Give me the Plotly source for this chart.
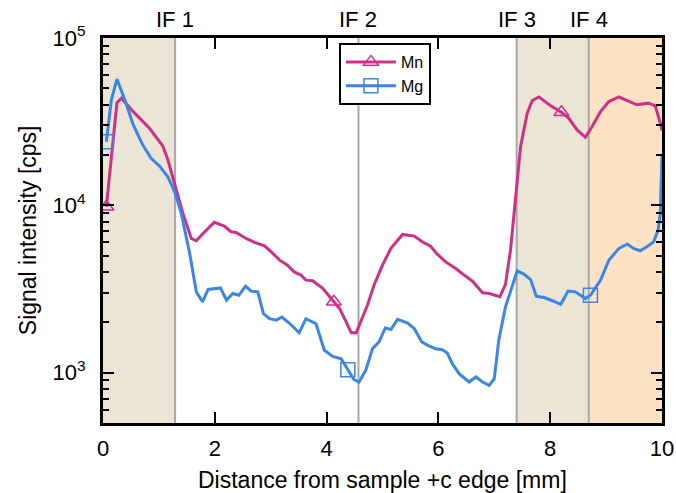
import plotly.graph_objects as go

# ---------------- data ----------------
mn_x = [0.06, 0.25, 0.33, 0.54, 0.83, 1.07, 1.16, 1.28, 1.43, 1.58, 1.67, 1.79, 1.99,
        2.17, 2.29, 2.38, 2.56, 2.71, 2.89, 3.01, 3.16, 3.30, 3.42, 3.54, 3.63, 3.75,
        3.93, 4.13, 4.23, 4.35, 4.44, 4.53, 4.61, 4.73, 4.85, 5.00, 5.15, 5.36, 5.57,
        5.71, 5.86, 5.98, 6.13, 6.31, 6.46, 6.61, 6.79, 6.91, 7.10, 7.20, 7.29, 7.35,
        7.47, 7.59, 7.68, 7.80, 8.01, 8.20, 8.33, 8.48, 8.63, 8.75, 8.90, 9.05, 9.23,
        9.38, 9.55, 9.76, 9.88, 9.97, 10.0]
mn_y = [9800, 41100, 43700, 36300, 28900, 22600, 18700, 13600, 8950, 6340, 6140, 6790, 7910,
        7510, 6950, 6890, 6340, 6000, 5730, 5270, 4700, 4390, 4000, 3830, 3570, 3540,
        3190, 2650, 2420, 2010, 1730, 1730, 2010, 2530, 3340, 4390, 5530, 6700, 6550,
        6050, 5700, 5110, 4590, 4190, 3830, 3520, 3000, 2970, 2840, 3370, 5390, 8950,
        22400, 35600, 42300, 44400, 39300, 36000, 33200, 28200, 25500, 29600, 36300, 41700, 44400,
        42300, 39900, 40800, 39300, 31000, 28000]
mn_marker_idx = [0, 27, 57]

mg_x = [0.06, 0.15, 0.25, 0.39, 0.54, 0.71, 0.86, 1.01, 1.16, 1.28, 1.40, 1.55, 1.67,
        1.78, 1.88, 2.10, 2.21, 2.32, 2.43, 2.55, 2.65, 2.77, 2.87, 2.98, 3.10, 3.20,
        3.33, 3.42, 3.51, 3.63, 3.81, 3.96, 4.11, 4.26, 4.38, 4.49, 4.58, 4.70, 4.82,
        4.94, 5.05, 5.15, 5.27, 5.45, 5.57, 5.70, 5.80, 5.95, 6.07, 6.16, 6.25, 6.37,
        6.55, 6.67, 6.79, 6.91, 7.00, 7.08, 7.20, 7.32, 7.41, 7.53, 7.65, 7.75, 7.89,
        8.04, 8.19, 8.32, 8.45, 8.63, 8.72, 8.90, 9.05, 9.23, 9.38, 9.49, 9.61, 9.73,
        9.85, 9.93, 9.97, 10.0]
mg_y = [24000, 42800, 56800, 42800, 30300, 23000, 19100, 17200, 14800, 12100, 8950, 5170, 3040,
        2650, 3140, 3210, 2710, 2970, 2900, 3290, 3070, 3040, 2250, 2100, 2060, 2150,
        1980, 1850, 1730, 2100, 1960, 1360, 1250, 1210, 1040, 908, 879, 1030, 1390,
        1530, 1850, 1810, 2080, 1980, 1830, 1530, 1460, 1390, 1370, 1310, 1130, 986,
        879, 942, 879, 840, 920, 1560, 2470, 3260, 4060, 3880, 3600, 2860, 2810,
        2690, 2560, 3070, 3040, 2770, 2900, 3570, 4700, 5530, 5870, 5530, 5350, 5650,
        6050, 7110, 8950, 20000]
mg_marker_idx = [0, 34, 70]

interfaces = [1.29, 4.57, 7.40, 8.69]
interface_labels = ["IF 1", "IF 2", "IF 3", "IF 4"]
x_range = [0, 10]
y_tickvals = [1e3, 1e4, 1e5]
y_ticktext = ["10<sup>3</sup>", "10<sup>4</sup>", "10<sup>5</sup>"]
y_minor = [m * 10 ** e for e in (2, 3, 4) for m in range(2, 10) if 500 <= m * 10 ** e < 1e5]
x_title = "Distance from sample +c edge [mm]"
y_title = "Signal intensity [cps]"

MN_COLOR = "#CF3087"
MG_COLOR = "#3A86E6"
BEIGE = "#EAE5D4"
PEACH = "#FDE3C4"
FONT = "Liberation Sans, Arial, sans-serif"

fig = go.Figure()

# shaded regions and interface lines
regions = [(x_range[0], interfaces[0], BEIGE), (interfaces[2], interfaces[3], BEIGE),
           (interfaces[3], x_range[1], PEACH)]
for x0, x1, c in regions:
    fig.add_shape(type="rect", xref="x", yref="paper", x0=x0, x1=x1, y0=0, y1=1,
                  fillcolor=c, line_width=0, layer="below")
for xi, lab in zip(interfaces, interface_labels):
    fig.add_shape(type="line", xref="x", yref="paper", x0=xi, x1=xi, y0=0, y1=1,
                  line=dict(color="#A8A8A8", width=2), layer="below")
    fig.add_annotation(x=xi, y=1.048, xref="x", yref="paper", text=lab, showarrow=False,
                       font=dict(size=22, color="black", family=FONT),
                       xanchor="center", yanchor="middle")

# axis titles
fig.add_annotation(x=0.5, y=-0.147, xref="paper", yref="paper", text=x_title, showarrow=False,
                   font=dict(size=23, color="black", family=FONT),
                   xanchor="center", yanchor="middle")
fig.add_annotation(x=-0.1347, y=0.5, xref="paper", yref="paper", text=y_title, showarrow=False,
                   textangle=-90, font=dict(size=23, color="black", family=FONT),
                   xanchor="center", yanchor="middle")

# lines
fig.add_trace(go.Scatter(x=mn_x, y=mn_y, mode="lines", line=dict(color=MN_COLOR, width=3),
                         showlegend=False))
fig.add_trace(go.Scatter(x=mg_x, y=mg_y, mode="lines", line=dict(color=MG_COLOR, width=3),
                         showlegend=False))
# sparse markers
fig.add_trace(go.Scatter(x=[mn_x[i] for i in mn_marker_idx], y=[mn_y[i] for i in mn_marker_idx],
                         mode="markers", showlegend=False,
                         marker=dict(symbol="triangle-up-open", size=13, color=MN_COLOR,
                                     line=dict(width=1.5, color=MN_COLOR))))
fig.add_trace(go.Scatter(x=[mg_x[i] for i in mg_marker_idx], y=[mg_y[i] for i in mg_marker_idx],
                         mode="markers", showlegend=False,
                         marker=dict(symbol="square-open", size=14, color=MG_COLOR,
                                     line=dict(width=1.5, color=MG_COLOR))))
# legend entries
fig.add_trace(go.Scatter(x=[None], y=[None], mode="lines+markers", name="Mn",
                         line=dict(color=MN_COLOR, width=3),
                         marker=dict(symbol="triangle-up-open", size=13, color=MN_COLOR,
                                     line=dict(width=1.5, color=MN_COLOR))))
fig.add_trace(go.Scatter(x=[None], y=[None], mode="lines+markers", name="Mg",
                         line=dict(color=MG_COLOR, width=3),
                         marker=dict(symbol="square-open", size=14, color=MG_COLOR,
                                     line=dict(width=1.5, color=MG_COLOR))))

fig.update_layout(
    width=676, height=493,
    margin=dict(l=103, r=14, t=38, b=70),
    paper_bgcolor="white", plot_bgcolor="white",
    font=dict(family=FONT, size=22, color="black"),
    legend=dict(x=0.422, y=0.987, xanchor="left", yanchor="top",
                bgcolor="white", bordercolor="black", borderwidth=2,
                font=dict(size=16, family=FONT), itemwidth=50, tracegroupgap=0),
    xaxis=dict(range=x_range, dtick=2, tick0=0, showgrid=False, zeroline=False,
               automargin=False,
               showline=True, linecolor="black", linewidth=3, mirror="allticks",
               ticks="inside", ticklen=11, tickwidth=2, tickcolor="black",
               ticklabelstandoff=4,
               tickfont=dict(size=22, family=FONT)),
    yaxis=dict(type="log", range=[2.699, 5], showgrid=False, zeroline=False,
               automargin=False,
               tickvals=y_tickvals, ticktext=y_ticktext,
               showline=True, linecolor="black", linewidth=3, mirror="allticks",
               ticks="inside", ticklen=11, tickwidth=2, tickcolor="black",
               ticklabelstandoff=10,
               tickfont=dict(size=22, family=FONT),
               minor=dict(tickvals=y_minor, ticks="inside", ticklen=6, tickwidth=2,
                          tickcolor="black", showgrid=False)),
)

fig.write_html("out.html", config={"displayModeBar": False},
               post_script="document.body.style.margin='0';document.body.style.overflow='hidden';")
